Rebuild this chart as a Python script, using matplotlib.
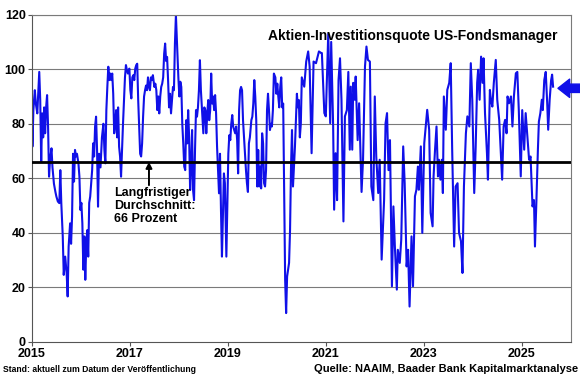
import matplotlib
matplotlib.use('Agg')
import matplotlib.pyplot as plt

# NAAIM exposure index (decimal year, percent)
years = [
    2015.00, 2015.01, 2015.03, 2015.06, 2015.08, 2015.11, 2015.15, 2015.17, 2015.19, 2015.21,
    2015.23, 2015.25, 2015.27, 2015.29, 2015.31, 2015.33, 2015.35, 2015.37, 2015.40, 2015.42,
    2015.45, 2015.48, 2015.50, 2015.53, 2015.56, 2015.58, 2015.60, 2015.63, 2015.65, 2015.68,
    2015.71, 2015.73, 2015.75, 2015.78, 2015.80, 2015.82, 2015.84, 2015.86, 2015.88, 2015.90,
    2015.92, 2015.95, 2015.97, 2015.99, 2016.01, 2016.03, 2016.05, 2016.07, 2016.09, 2016.11,
    2016.13, 2016.15, 2016.17, 2016.19, 2016.21, 2016.23, 2016.25, 2016.27, 2016.29, 2016.31,
    2016.33, 2016.35,
    2016.37, 2016.40, 2016.43, 2016.46, 2016.48, 2016.50, 2016.52, 2016.54, 2016.56, 2016.58,
    2016.60, 2016.62, 2016.64, 2016.66, 2016.68, 2016.70, 2016.72, 2016.74, 2016.76, 2016.78,
    2016.80, 2016.82, 2016.84, 2016.86, 2016.88, 2016.90, 2016.92, 2016.94, 2016.96, 2016.99,
    2017.01, 2017.03, 2017.05, 2017.07, 2017.09, 2017.11, 2017.13, 2017.15, 2017.17, 2017.19,
    2017.21, 2017.23, 2017.25, 2017.27, 2017.29, 2017.31, 2017.33, 2017.35, 2017.37, 2017.39,
    2017.41, 2017.43, 2017.45, 2017.47, 2017.50, 2017.52, 2017.54, 2017.56, 2017.58, 2017.60,
    2017.62, 2017.64, 2017.66, 2017.68, 2017.70, 2017.72,
    2017.74, 2017.76, 2017.78, 2017.80, 2017.82, 2017.84, 2017.86, 2017.88, 2017.90, 2017.92,
    2017.94, 2017.97, 2017.99, 2018.01, 2018.03, 2018.05, 2018.07, 2018.09, 2018.11, 2018.13,
    2018.15, 2018.17, 2018.19, 2018.21, 2018.23, 2018.25, 2018.27, 2018.29, 2018.31, 2018.33,
    2018.35, 2018.37, 2018.39, 2018.41, 2018.43, 2018.45, 2018.48, 2018.50, 2018.52, 2018.54,
    2018.56, 2018.58, 2018.60, 2018.62, 2018.64, 2018.66, 2018.68, 2018.70, 2018.72, 2018.74,
    2018.76, 2018.78, 2018.80, 2018.82, 2018.84, 2018.86, 2018.88, 2018.90, 2018.92, 2018.94,
    2018.97, 2018.99, 2019.01, 2019.03, 2019.05, 2019.07, 2019.09, 2019.11,
    2019.13, 2019.15, 2019.17, 2019.19, 2019.21, 2019.23, 2019.25, 2019.27, 2019.29, 2019.31,
    2019.33, 2019.35, 2019.37, 2019.39, 2019.41, 2019.43, 2019.45, 2019.48, 2019.50, 2019.52,
    2019.54, 2019.56, 2019.58, 2019.60, 2019.62, 2019.64, 2019.66, 2019.68, 2019.70, 2019.72,
    2019.74, 2019.76, 2019.78, 2019.80, 2019.82, 2019.84, 2019.86, 2019.88, 2019.90, 2019.92,
    2019.94, 2019.97, 2019.99, 2020.01, 2020.03, 2020.05, 2020.07, 2020.09, 2020.11, 2020.13,
    2020.15, 2020.17, 2020.19, 2020.21, 2020.23, 2020.25, 2020.27, 2020.29, 2020.31, 2020.33,
    2020.35, 2020.37, 2020.39, 2020.41, 2020.43, 2020.45, 2020.47, 2020.49, 2020.51,
    2020.56, 2020.60, 2020.64, 2020.67, 2020.71, 2020.75, 2020.80, 2020.86, 2020.90,
    2020.92, 2020.97, 2021.00, 2021.05, 2021.09, 2021.11, 2021.15, 2021.17, 2021.20, 2021.23,
    2021.26, 2021.29, 2021.32, 2021.36, 2021.39, 2021.43, 2021.46, 2021.49, 2021.51, 2021.54,
    2021.56, 2021.59, 2021.61, 2021.65, 2021.68, 2021.73, 2021.76, 2021.80, 2021.83, 2021.86,
    2021.90, 2021.93, 2021.97, 2022.00, 2022.03, 2022.07, 2022.10, 2022.14, 2022.19, 2022.22,
    2022.25, 2022.28, 2022.31, 2022.35, 2022.38, 2022.41, 2022.45, 2022.47, 2022.51, 2022.54,
    2022.58, 2022.61, 2022.65, 2022.68, 2022.71, 2022.75, 2022.78, 2022.82, 2022.85, 2022.88,
    2022.90,
    2022.94, 2022.97, 2023.01, 2023.04, 2023.07, 2023.11, 2023.14, 2023.18, 2023.20, 2023.23,
    2023.26, 2023.29, 2023.31, 2023.34, 2023.37, 2023.39, 2023.41, 2023.45, 2023.48, 2023.52,
    2023.55, 2023.58, 2023.62, 2023.65, 2023.69, 2023.72, 2023.76, 2023.79, 2023.82, 2023.86,
    2023.89, 2023.93, 2023.96, 2023.99, 2024.03, 2024.06, 2024.09, 2024.11, 2024.14, 2024.17,
    2024.20, 2024.22, 2024.25, 2024.29, 2024.31, 2024.35, 2024.37, 2024.40, 2024.43, 2024.47,
    2024.50, 2024.54, 2024.57, 2024.60, 2024.63, 2024.66, 2024.69, 2024.71, 2024.74,
    2024.78, 2024.81, 2024.84, 2024.88, 2024.91, 2024.94, 2024.98, 2025.01, 2025.05, 2025.08,
    2025.11, 2025.15, 2025.18, 2025.22, 2025.25, 2025.27, 2025.30, 2025.33, 2025.35, 2025.38,
    2025.41, 2025.43, 2025.46, 2025.49, 2025.52, 2025.54, 2025.57, 2025.60, 2025.62, 2025.64,
]
exposure = [
    96, 71.6, 85, 92.3, 87.4, 83.8, 99, 88.7, 66, 83.8,
    75, 86, 76.5, 86, 90.5, 79, 60.6, 66.7, 71, 64,
    58, 55, 53.3, 51.5, 50.9, 63, 51, 38.7, 24.6, 31.3,
    25, 16.7, 35, 43.5, 36, 46, 69, 58.8, 70.4, 68,
    69, 65.5, 60.6, 48.4, 51, 43.5, 26.5, 38.7, 22.8, 36,
    41, 31.3, 51, 53.3, 58, 63, 72.8, 68, 79, 82.6,
    70.4, 49.6,
    69, 64, 75, 80, 70.4, 65.5, 85, 93.5, 100.9, 96,
    98.4, 96, 98.4, 91, 76.5, 80, 85, 75, 86, 71.6,
    68, 60.6, 70.4, 80, 88.7, 97, 101.5, 99.6, 98.4, 100.2,
    92.3, 89.3, 97, 97.8, 96, 100.2, 101.5, 102, 88.7, 79,
    69, 68, 72.8, 82.6, 90, 92.3, 94, 92.3, 97, 93.5,
    92.3, 97, 96, 97.8, 93.5, 94.7, 92.3, 85, 90, 83.8,
    90, 93.5, 94.7, 97, 105.7, 109.4,
    103, 104.5, 96, 86, 91, 83.8, 88.7, 93.5, 92.3, 109.4,
    119.8, 105.7, 97, 90, 95.4, 93.5, 80, 72.8, 64.3, 63,
    81.3, 72.8, 85, 75, 55.7, 64.3, 77.7, 55.7, 52, 70.4,
    85, 82.6, 86, 92.3, 103.3, 92.3, 82.6, 76.5, 86, 85,
    76.5, 83.8, 88.7, 81.3, 85, 98.4, 87.4, 90, 85, 90.5,
    83.8, 71.6, 63, 54.5, 69, 48.4, 31.3, 47.2, 61.8, 58.2,
    31.3, 50.9, 69, 75.8, 74, 80, 83.2, 78.9,
    77.7, 76.5, 79, 74, 61.8, 85, 92.3, 93.5, 92.3, 81.3,
    75, 69, 63, 58.2, 55, 72.8, 75, 81.3, 82.6, 87.4,
    96, 90, 81.3, 57, 70.4, 57, 64.3, 56.3, 76.5, 72.8,
    58.2, 57, 63, 85, 91, 85, 77.7, 80, 79, 85,
    98.4, 97, 91, 94.7, 90, 86, 93.5, 97, 86, 87.4,
    55.7, 22.8, 10.6, 24, 26.5, 29, 41, 64.3, 77.7, 57,
    64.3, 71.6, 81.3, 91, 86, 88.7, 75, 80, 97,
    93.6, 102.8, 106.5, 101, 69.2, 102.8, 102.2, 106.5, 106,
    105.9, 83.9, 82.7, 113, 80.2, 110, 79, 48.5, 69.2, 52,
    96, 104, 88.8, 44.2, 82.7, 85, 99, 70.5, 93.6, 70.5,
    95, 88.8, 97.3, 74, 87.5, 55, 66.8, 101, 108.3, 103.4,
    102.8, 57, 52, 90, 68, 54.6, 66.8, 30.2, 52, 80.2,
    83.9, 63, 74, 20.4, 49.7, 35, 19.2, 33.8, 29, 37.5,
    71.7, 58.2, 27.7, 33.8, 13, 38.7, 20.4, 53.4, 55.8, 64.3,
    55.8,
    71.7, 40, 72.9, 79, 85.1, 77.8, 47.3, 42.4, 60.7, 70.5,
    79, 60.7, 66.8, 59.5, 66.8, 54.6, 90, 77.8, 92.4, 95,
    102.2, 70.5, 35, 57, 58.2, 40, 36.9, 25.3, 57, 76.5,
    82.7, 79, 102.2, 88.8, 54.6, 71.7, 95, 99.8, 88.8, 104.6,
    95, 104, 83.9, 69.2, 59.5, 92.4, 88.8, 86.3, 95, 103.4,
    88.8, 81.4, 70.5, 59.5, 79, 81.4, 76.5, 90, 87.5,
    90, 79, 90, 98.5, 99, 85, 60.7, 85, 70.5, 83.9,
    76.5, 66.8, 68, 49.7, 52, 35, 52, 70.5, 80.8, 83.9,
    88.8, 85, 96, 99, 87.5, 77.8, 88.8, 96, 98, 93.6,
]
assert len(years) == len(exposure)

mean_level = 66
latest_level = 93
y_ticks = [0, 20, 40, 60, 80, 100, 120]
x_ticks = [2015, 2017, 2019, 2021, 2023, 2025]

title = 'Aktien-Investitionsquote US-Fondsmanager'
mean_note = 'Langfristiger\nDurchschnitt:\n66 Prozent'
stand_note = 'Stand: aktuell zum Datum der Veröffentlichung'
source_note = 'Quelle: NAAIM, Baader Bank Kapitalmarktanalyse'

plt.rcParams['font.family'] = ['Liberation Sans', 'DejaVu Sans']

fig = plt.figure(figsize=(5.8, 3.75), dpi=100)
ax = fig.add_axes([0.055, 0.088, 0.929, 0.873])

# horizontal grid
for y in y_ticks[1:]:
    ax.axhline(y, color='#7a7a7a', lw=0.8, zorder=0)

ax.plot(years, exposure, color='#1010e8', lw=1.5, zorder=2)
ax.axhline(mean_level, color='black', lw=2.0, zorder=3)

ax.set_xlim(2015, 2026)
ax.set_ylim(0, 120)
ax.set_xticks(x_ticks)
ax.set_yticks(y_ticks)
ax.set_xticklabels([str(x) for x in x_ticks], fontsize=9, fontweight='bold')
ax.set_yticklabels([str(y) for y in y_ticks], fontsize=9, fontweight='bold')
ax.tick_params(axis='both', length=3, width=0.8, color='#555555', pad=1.5)

for side in ['top', 'right']:
    ax.spines[side].set_color('#7a7a7a')
for side in ['left', 'bottom']:
    ax.spines[side].set_color('#555555')
for sp in ax.spines.values():
    sp.set_linewidth(0.8)

ax.text(0.975, 0.955, title, transform=ax.transAxes, ha='right', va='top',
        fontsize=10, fontweight='bold')

# note on the long-term average
ax.annotate('', xy=(2017.39, mean_level), xytext=(2017.39, 57.5),
            arrowprops=dict(arrowstyle='-|>,head_length=0.35,head_width=0.18',
                            color='black', lw=1.4, shrinkA=0, shrinkB=0))
ax.text(2016.68, 56.8, mean_note, ha='left', va='top', fontsize=9,
        fontweight='bold', linespacing=1.1)

# marker for the latest reading
ax.annotate('', xy=(2025.74, latest_level), xytext=(2026.2, latest_level),
            annotation_clip=False,
            arrowprops=dict(arrowstyle='simple,head_length=0.7,head_width=1.1,tail_width=0.5',
                            color='#1010e8', mutation_scale=12, shrinkA=0, shrinkB=0))

fig.text(0.005, 0.004, stand_note, ha='left', va='bottom', fontsize=6.2,
         fontweight='bold')
fig.text(0.997, 0.004, source_note, ha='right', va='bottom', fontsize=8,
         fontweight='bold')

fig.savefig('out.png', dpi=100)
